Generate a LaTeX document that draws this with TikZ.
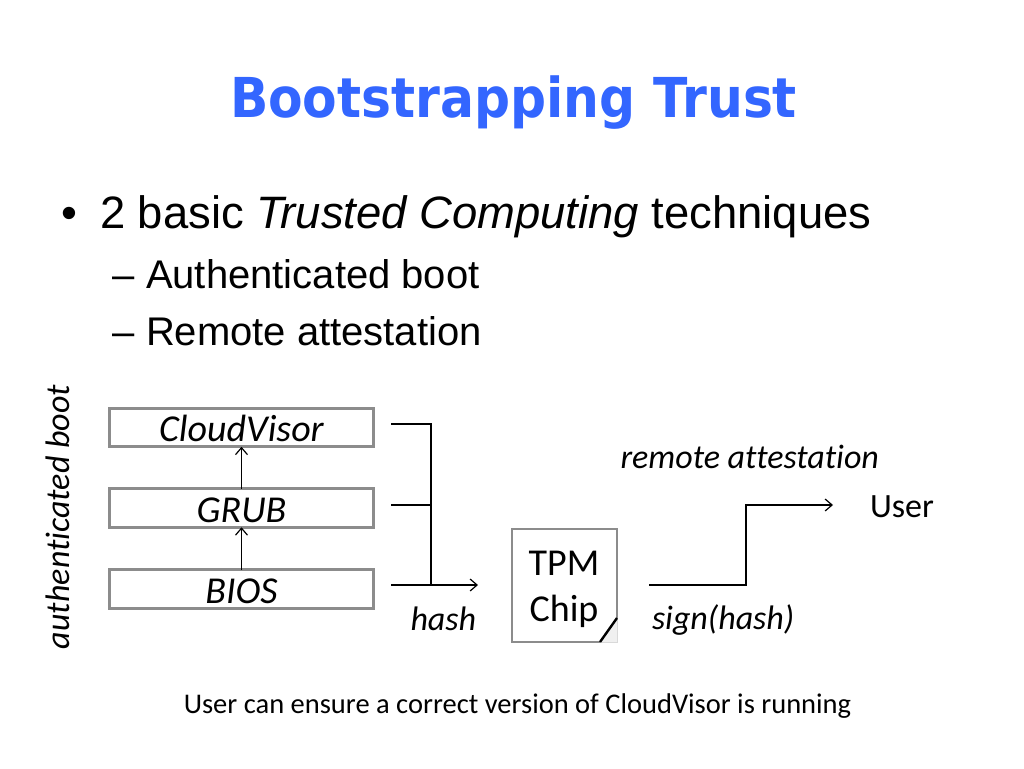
\documentclass[tikz,border=0pt]{standalone}
\usepackage{fontspec}
\usepackage{graphicx}
\setmainfont{Liberation Sans}
\newfontfamily\calfont[Ligatures=NoCommon]{Carlito}
\newfontfamily\titlefont{DejaVu Sans}
\usetikzlibrary{arrows.meta}
\definecolor{titleblue}{HTML}{3366FF}
\definecolor{boxgray}{HTML}{8C8C8C}
\begin{document}
\begin{tikzpicture}[x=1pt,y=-1pt,
  txt/.style={inner sep=0pt, outer sep=0pt, anchor=base west},
  bootbox/.style={draw=boxgray, line width=2.6pt, minimum width=264.5pt, minimum height=38.5pt,
    inner sep=0pt, outer sep=0pt, font=\calfont\itshape\fontsize{38}{40}\selectfont,
    text height=28pt, text depth=0pt},
  conn/.style={line width=1.2pt, black},
  arr/.style={conn, -{Straight Barb[length=7pt,width=12pt]}},
  lbl/.style={inner sep=0pt, outer sep=0pt, anchor=base west, font=\calfont\itshape\fontsize{34}{38}\selectfont}]
\fill[white] (0,0) rectangle (1024,768);
\useasboundingbox (0,0) rectangle (1024,768);

% title
\node[txt, text=titleblue] (title) at (230,117)
  {\resizebox{567pt}{\height}{\titlefont\bfseries\fontsize{55}{60}\selectfont Bootstrapping Trust}};

% bullets
\node[txt, font=\fontsize{45.4}{50}\selectfont] (bul) at (61,228) {•};
\node[txt, font=\fontsize{45.4}{50}\selectfont] (l1) at (100,228) {2 basic \textit{Trusted Computing} techniques};
\node[txt, font=\fontsize{40}{46}\selectfont] (d2) at (112,288) {–};
\node[txt, font=\fontsize{40}{46}\selectfont] (l2) at (146,288) {Authenticated boot};
\node[txt, font=\fontsize{40}{46}\selectfont] (d3) at (112,345) {–};
\node[txt, font=\fontsize{40}{46}\selectfont] (l3) at (146,345) {Remote attestation};

% rotated label
\node[inner sep=0pt, outer sep=0pt, rotate=90, anchor=base,
  font=\calfont\itshape\fontsize{34}{38}\selectfont] (ab) at (69,517) {authenticated boot};

% boot chain boxes
\node[bootbox] (cv) at (241.5,427.5) {CloudVisor};
\node[bootbox] (grub) at (241.5,508) {GRUB};
\node[bootbox] (bios) at (241.5,589) {BIOS};
\draw[arr] (bios.north) -- (grub.south);
\draw[arr] (grub.north) -- (cv.south);

% TPM chip
\node[inner sep=0pt, outer sep=0pt, minimum width=105pt, minimum height=113pt] (tpm) at (564.5,585.5) {};
\fill[gray!12] ([yshift=24pt]tpm.south east) -- (tpm.south east) -- ([xshift=-17pt]tpm.south east) -- cycle;
\draw[gray!30, line width=0.8pt] ([yshift=24pt]tpm.south east) -- (tpm.south east) -- ([xshift=-17pt]tpm.south east);
\draw[boxgray, line width=2.6pt] ([yshift=24pt]tpm.south east) -- (tpm.north east) -- (tpm.north west)
  -- (tpm.south west) -- ([xshift=-17pt]tpm.south east);
\draw[black, line width=2.4pt] ([yshift=24pt]tpm.south east) -- ([xshift=-17pt]tpm.south east);
\node[inner sep=0pt, outer sep=0pt, align=center, anchor=base,
  font=\calfont\fontsize{38}{46.7}\selectfont] (tpmtxt) at (564,621.7) {TPM\\Chip};

% hash connectors
\coordinate (cvo) at (391,424);
\coordinate (gro) at (391,505);
\coordinate (bio) at (391,585);
\coordinate (jn) at (431,585);
\draw[conn] (cvo) -| (jn);
\draw[conn] (gro) -- (gro -| jn);
\draw[arr, shorten >=34pt] (bio) -- (bio -| tpm.west);
\node[lbl] (hash) at (410.5,630.5) {hash};

% attestation connector
\coordinate (to1) at (649,585);
\coordinate (to2) at (746,505);
\coordinate (to3) at (833,505);
\draw[arr] (to1) -| (to2) -- (to3);
\node[lbl] (sign) at (652,629) {sign(hash)};
\node[lbl] (ra) at (620.5,468) {remote attestation};
\node[txt, font=\calfont\fontsize{34}{38}\selectfont] (user) at (870,517) {User};

% bottom note
\node[inner sep=0pt, outer sep=0pt, anchor=base, font=\calfont\fontsize{28.5}{34}\selectfont] (note)
  at (517.5,713) {User can ensure a correct version of CloudVisor is running};
\end{tikzpicture}
\end{document}
